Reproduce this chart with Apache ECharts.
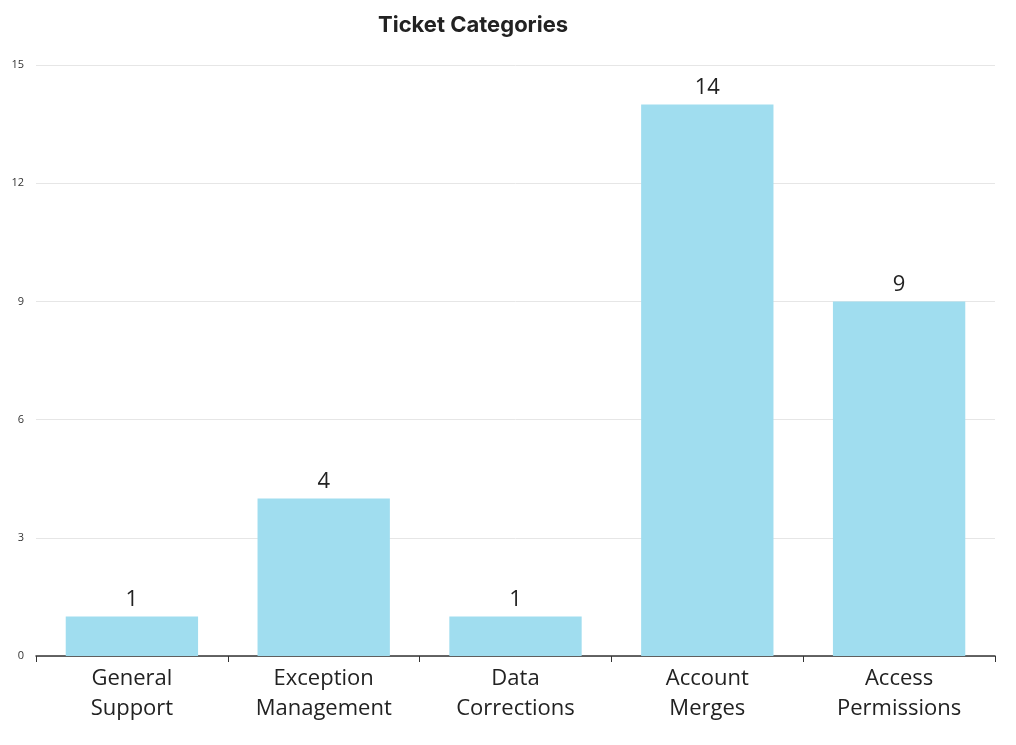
<!DOCTYPE html>
<html>
<head>
<meta charset="utf-8">
<script src="https://cdn.jsdelivr.net/npm/echarts@6/dist/echarts.min.js"></script>
<style>
html, body { margin: 0; padding: 0; background: #fff; }
#chart { width: 1016px; height: 745px; }
</style>
</head>
<body>
<div id="chart"></div>
<script>
var categories = ['General\nSupport', 'Exception\nManagement', 'Data\nCorrections', 'Account\nMerges', 'Access\nPermissions'];
var ticketCounts = [1, 4, 1, 14, 9];

var chart = echarts.init(document.getElementById('chart'));
var option = {
    animation: false,
    title: {
        text: 'Ticket Categories',
        left: 373,
        top: 9,
        textStyle: { fontFamily: 'Inter', fontSize: 22, fontWeight: 'bold', color: '#222' }
    },
    grid: { left: 36, right: 21, top: 65, bottom: 89 },
    xAxis: {
        type: 'category',
        data: categories,
        axisLine: { lineStyle: { color: '#333', width: 1.5 } },
        axisTick: { show: true, length: 6, lineStyle: { color: '#333' } },
        axisLabel: { fontFamily: 'Open Sans', fontSize: 22, color: '#222', lineHeight: 30, margin: 8 }
    },
    yAxis: {
        type: 'value',
        min: 0,
        max: 15,
        interval: 3,
        axisLine: { show: false },
        axisTick: { show: false },
        splitLine: { lineStyle: { color: '#e6e6e6' } },
        axisLabel: { fontFamily: 'Open Sans', fontSize: 11, color: '#333', margin: 12 }
    },
    series: [{
        type: 'bar',
        data: ticketCounts,
        barCategoryGap: '31%',
        itemStyle: { color: '#a0ddef' },
        label: {
            show: true,
            position: 'top',
            distance: 6,
            fontFamily: 'Open Sans',
            fontSize: 22,
            color: '#222'
        }
    }]
};
chart.setOption(option);
</script>
</body>
</html>
